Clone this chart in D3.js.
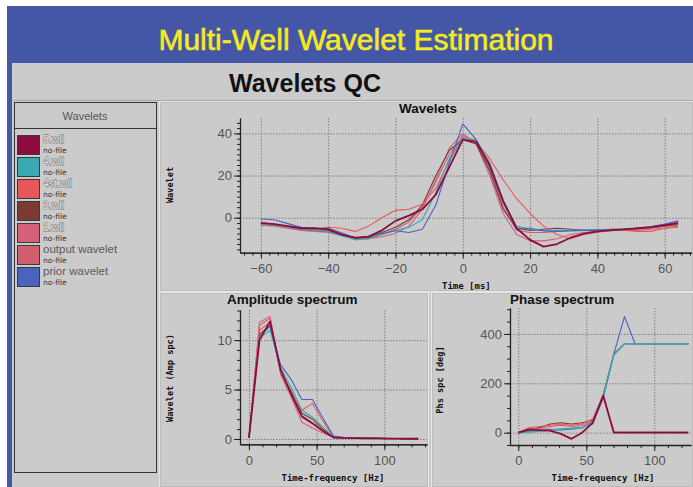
<!DOCTYPE html>
<html><head><meta charset="utf-8">
<script src="https://cdn.jsdelivr.net/npm/d3@7"></script>
<style>body{margin:0;background:#fff;overflow:hidden}</style>
</head><body>
<svg id="c" width="693" height="487" xmlns="http://www.w3.org/2000/svg"></svg>
<script>
// ---------- DATA ----------
const seriesNames = ["5.wll","4.wll","4st.wll","3.wll","1.wll","output wavelet","prior wavelet"];
const seriesColors = ["#8c0c3e","#3aa9b4","#e8585a","#7b3a32","#d4607a","#cf5f6c","#4a62c0"];

const timeMs = [-60,-56,-52,-48,-44,-40,-36,-32,-28,-24,-20,-16,-12,-8,-4,0,4,8,12,16,20,24,28,32,36,40,44,48,52,56,60,64];
const wave5   = [-2.5,-3,-4,-5,-5,-5.5,-8,-9.5,-9,-6,-1.5,1,4,11,24,37,36,25,8,-5,-10.5,-13.7,-12.5,-9.5,-7.5,-6.5,-6,-5.5,-5,-4.5,-3.5,-2.5];
const wave4   = [-3,-3.5,-4.5,-5.5,-6,-6.5,-8.5,-10.5,-10,-8,-6,-4.5,-1,12,28,38,37,26,8,-4,-5.5,-6,-6,-6,-5.8,-5.8,-5.8,-5.5,-5,-4.5,-3.5,-2.5];
const wave4st = [-3.5,-3.5,-4.5,-5,-5.5,-4.5,-5,-6.5,-4,0,3.5,4,6.5,14,27,38,36,28,18,9,2,-4,-8,-10,-8,-7,-6,-6,-6.5,-6.5,-5,-4];
const wave3   = [-2.5,-3,-4.5,-5.5,-6,-6.5,-8,-9.5,-9.5,-7,-4.5,-1,6,20,32,37,35,22,4,-5,-6,-5.5,-5,-5.5,-6,-6,-5.5,-5.5,-5,-4.5,-4,-3];
const wave1   = [-3.5,-4,-5,-6,-6.5,-7,-8.5,-10,-10,-9,-7.5,-4,4,18,33,40,35,20,2,-8,-11,-11,-10,-8,-7,-6.5,-5.5,-6,-6,-5.5,-5,-4.5];
const waveOut = [-3,-3.5,-4.5,-5.5,-6,-6,-8,-10,-10,-8,-5.5,-2,5,17,30,39,36,23,5,-6,-7,-7,-6.5,-6,-6,-6,-6,-6,-5.5,-5,-4,-3.5];
const wavePrior=[-0.6,-1,-2.8,-4.6,-5.2,-5,-7.2,-9.6,-9,-7.5,-6.2,-7,-5.5,6,26,44.5,37,24,7,-5,-5,-6.3,-6.5,-6.3,-6,-5.8,-5.6,-5.4,-5,-4.2,-3,-1.5];

const freqHz = [0,7.8,15.6,23.4,31.3,39.1,46.9,54.7,62.5,70.3,78.1,85.9,93.8,101.6,109.4,117.2,125];
const amp5    = [0.1,10.0,11.9,7.0,4.5,2.3,1.6,0.8,0.15,0.1,0.08,0.06,0.05,0.04,0.03,0.02,0.02];
const amp4    = [0.1,10.2,11.0,7.2,5.2,2.9,2.2,1.2,0.2,0.12,0.1,0.08,0.06,0.05,0.04,0.03,0.02];
const amp4st  = [0.1,11.5,12.2,6.8,4.6,2.9,3.6,1.8,0.2,0.12,0.1,0.08,0.06,0.05,0.04,0.03,0.02];
const amp3    = [0.1,10.6,11.5,6.9,4.8,2.6,2.0,1.0,0.2,0.12,0.1,0.08,0.06,0.05,0.04,0.03,0.02];
const amp1    = [0.1,11.8,12.4,6.5,4.2,1.7,1.1,0.6,0.15,0.1,0.08,0.06,0.05,0.04,0.03,0.02,0.02];
const ampOut  = [0.1,11.0,11.8,6.7,4.5,2.2,1.5,0.8,0.15,0.1,0.08,0.06,0.05,0.04,0.03,0.02,0.02];
const ampPrior= [0.1,10.4,11.4,7.5,6.0,4.0,4.0,2.1,0.3,0.15,0.1,0.1,0.08,0.06,0.04,0.03,0.02];

const ph5     = [0,12,10,8,-5,-25,0,40,150,0,0,0,0,0,0,0,0];
const ph4     = [0,3,6,10,12,14,20,40,150,315,360,360,360,360,360,360,360];
const ph4st   = [0,20,25,30,35,30,35,55,150,320,360,360,360,360,360,360,360];
const ph3     = [0,15,20,35,40,35,40,50,155,318,360,360,360,360,360,360,360];
const ph1     = [0,20,15,15,10,15,20,45,145,2,2,2,2,2,2,2,2];
const phOut   = [0,10,20,25,30,25,30,45,150,318,360,360,360,360,360,360,360];
const phPrior = [0,5,8,12,15,18,22,35,140,320,470,360,360,360,360,360,360];

const waveTicksX = [-60,-40,-20,0,20,40,60];
const waveTicksY = [0,20,40];
const ampTicksX = [0,50,100];
const ampTicksY = [0,5,10];
const phTicksX = [0,50,100];
const phTicksY = [0,200,400];

// ---------- DRAW ----------
const svg = d3.select("#c");
svg.append("rect").attr("x",0).attr("y",0).attr("width",693).attr("height",487).attr("fill","#ffffff");
svg.append("rect").attr("x",7).attr("y",6).attr("width",686).attr("height",481).attr("fill","#4457a6");
svg.append("rect").attr("x",12).attr("y",63).attr("width",681).attr("height",424).attr("fill","#cbcbcb");

svg.append("text").attr("x",356).attr("y",50).attr("text-anchor","middle")
  .attr("font-family","Liberation Sans, Arial, sans-serif").attr("font-size",30)
  .attr("fill","#f4ea1e").attr("stroke","#f4ea1e").attr("stroke-width",0.6)
  .text("Multi-Well Wavelet Estimation");
svg.append("text").attr("x",305).attr("y",92).attr("text-anchor","middle")
  .attr("font-family","Liberation Sans, Arial, sans-serif").attr("font-size",25).attr("font-weight","bold")
  .attr("fill","#111").text("Wavelets QC");

// panels
function panel(x0,y0,x1,y1){
  svg.append("rect").attr("x",x0+0.5).attr("y",y0+0.5).attr("width",x1-x0-1).attr("height",y1-y0-1)
    .attr("fill","none").attr("stroke","#e6e6e6").attr("stroke-width",1);
  svg.append("rect").attr("x",x0+1.5).attr("y",y0+1.5).attr("width",x1-x0-3).attr("height",y1-y0-3)
    .attr("fill","none").attr("stroke","#b4b4b4").attr("stroke-width",0.6);
}
svg.append("line").attr("x1",12).attr("x2",693).attr("y1",100.5).attr("y2",100.5).attr("stroke","#a9a9a9");
panel(159,101,694,292);
panel(159,292,429,488);
panel(431,292,694,488);

// legend
const lg = svg.append("g");
lg.append("rect").attr("x",14.5).attr("y",102.5).attr("width",142).attr("height",370)
  .attr("fill","#cbcbcb").attr("stroke","#333").attr("stroke-width",1);
lg.append("line").attr("x1",14.5).attr("x2",156.5).attr("y1",128.5).attr("y2",128.5).attr("stroke","#333");
lg.append("text").attr("x",85).attr("y",120).attr("text-anchor","middle")
  .attr("font-family","Liberation Sans, Arial, sans-serif").attr("font-size",11).attr("fill","#555").text("Wavelets");
seriesNames.forEach((n,i)=>{
  const y0 = 135 + i*22;
  lg.append("rect").attr("x",17.5).attr("y",y0+0.5).attr("width",22).attr("height",19)
    .attr("fill",seriesColors[i]).attr("stroke","#3a3a3a").attr("stroke-width",1);
  const wll = n.endsWith(".wll");
  lg.append("text").attr("x",43).attr("y",y0+8).attr("font-family","Liberation Sans, Arial, sans-serif")
    .attr("font-size",wll?10.5:11.5).attr("fill",wll?"#ececec":"#5a5a5a")
    .attr("stroke",wll?"#5e5e5e":"none").attr("stroke-width",0.8).attr("paint-order","stroke")
    .text(n);
  lg.append("text").attr("x",43).attr("y",y0+18).attr("font-family","DejaVu Sans, sans-serif")
    .attr("font-size",7.5).attr("fill","#333").text("no-file");
});

// generic plot
function plot(opt){
  const g = svg.append("g");
  const x = d3.scaleLinear().domain(opt.xd).range(opt.xr);
  const y = d3.scaleLinear().domain(opt.yd).range(opt.yr);
  const [xl,xh] = opt.xr, [yb,yt] = opt.yr;
  // grid
  g.selectAll(".gx").data(opt.tx).join("line").attr("x1",d=>x(d)+0.5).attr("x2",d=>x(d)+0.5)
    .attr("y1",yt).attr("y2",yb).attr("stroke","#7f7f7f").attr("stroke-dasharray","1.5,1.5").attr("stroke-width",1);
  g.selectAll(".gy").data(opt.ty).join("line").attr("y1",d=>y(d)+0.5).attr("y2",d=>y(d)+0.5)
    .attr("x1",xl).attr("x2",xh).attr("stroke","#7f7f7f").attr("stroke-dasharray","1.5,1.5").attr("stroke-width",1);
  // minor ticks
  const minorX = d3.range(Math.ceil(opt.xd[0]/opt.mx)*opt.mx, opt.xd[1], opt.mx);
  const minorY = d3.range(Math.ceil(opt.yd[0]/opt.my)*opt.my, opt.yd[1], opt.my);
  g.append("g").attr("transform",`translate(0,${yb})`)
    .call(d3.axisBottom(x).tickValues(minorX).tickSize(3).tickSizeOuter(0).tickFormat(""))
    .call(a=>a.selectAll("path,line").attr("stroke","#222"));
  g.append("g").attr("transform",`translate(${xl},0)`)
    .call(d3.axisLeft(y).tickValues(minorY).tickSize(3).tickSizeOuter(0).tickFormat(""))
    .call(a=>a.selectAll("path,line").attr("stroke","#222"));
  // major ticks
  const ax = g.append("g").attr("transform",`translate(0,${yb})`)
    .call(d3.axisBottom(x).tickValues(opt.tx).tickSize(6).tickSizeOuter(0).tickPadding(5)
      .tickFormat(d=>d<0?"\u2212"+Math.abs(d):d));
  ax.selectAll("path,line").attr("stroke","#222");
  ax.selectAll("text").attr("font-family","Liberation Sans, Arial, sans-serif").attr("font-size",13).attr("fill","#555");
  const ay = g.append("g").attr("transform",`translate(${xl},0)`)
    .call(d3.axisLeft(y).tickValues(opt.ty).tickSize(6).tickSizeOuter(0).tickPadding(2));
  ay.selectAll("path,line").attr("stroke","#222");
  ay.selectAll("text").attr("font-family","Liberation Sans, Arial, sans-serif").attr("font-size",13).attr("fill","#555");
  ax.select(".domain").attr("stroke-width",1.3);
  ay.select(".domain").attr("stroke-width",1.3);
  // lines
  const line = d3.line().x((d,i)=>x(opt.xs[i])).y(d=>y(d));
  opt.order.forEach(k=>{
    const w = k===0 ? 1.8 : (k===opt.bold ? 1.5 : 1.1);
    g.append("path").attr("d",line(opt.series[k])).attr("fill","none")
      .attr("stroke",seriesColors[k]).attr("stroke-width",w).attr("stroke-linejoin","round");
  });
  // titles
  g.append("text").attr("x",opt.title[1]).attr("y",opt.title[2]).attr("text-anchor",opt.title[3])
    .attr("font-family","Liberation Sans, Arial, sans-serif").attr("font-size",13.5).attr("font-weight","bold")
    .attr("fill","#111").text(opt.title[0]);
  g.append("text").attr("x",opt.xlab[1]).attr("y",opt.xlab[2]).attr("text-anchor",opt.xlab[3])
    .attr("font-family","DejaVu Sans Mono, monospace").attr("font-size",9).attr("font-weight","bold")
    .attr("fill","#111").text(opt.xlab[0]);
  g.append("text").attr("transform",`translate(${opt.ylab[1]},${opt.ylab[2]}) rotate(-90)`).attr("text-anchor","middle")
    .attr("font-family","DejaVu Sans Mono, monospace").attr("font-size",8.6).attr("font-weight","bold")
    .attr("fill","#111").text(opt.ylab[0]);
}

plot({xd:[-66.2,68],xr:[240,691.6],yd:[-16.6,47.3],yr:[252.7,118],tx:waveTicksX,ty:waveTicksY,mx:2.5,my:2.5,
  xs:timeMs,series:[wave5,wave4,wave4st,wave3,wave1,waveOut,wavePrior],order:[5,4,3,2,1,6,0],bold:-1,
  title:["Wavelets",428,113,"middle"],xlab:["Time [ms]",442,289,"start"],ylab:["Wavelet",173,185]});
plot({xd:[-6.6,131.5],xr:[240,427],yd:[-0.54,13.05],yr:[444.3,310],tx:ampTicksX,ty:ampTicksY,mx:10,my:1,
  xs:freqHz,series:[amp5,amp4,amp4st,amp3,amp1,ampOut,ampPrior],order:[5,4,3,2,1,6,0],bold:-1,
  title:["Amplitude spectrum",227,304,"start"],xlab:["Time-frequency [Hz]",333,481,"middle"],ylab:["Wavelet (Amp spc)",173,378]});
plot({xd:[-6.1,127],xr:[510,691],yd:[-50,505],yr:[445,308],tx:phTicksX,ty:phTicksY,mx:10,my:50,
  xs:freqHz,series:[ph5,ph4,ph4st,ph3,ph1,phOut,phPrior],order:[5,3,2,6,4,1,0],bold:1,
  title:["Phase spectrum",510,304,"start"],xlab:["Time-frequency [Hz]",603,481,"middle"],ylab:["Phs spc [deg]",443,380]});
</script>
</body></html>
